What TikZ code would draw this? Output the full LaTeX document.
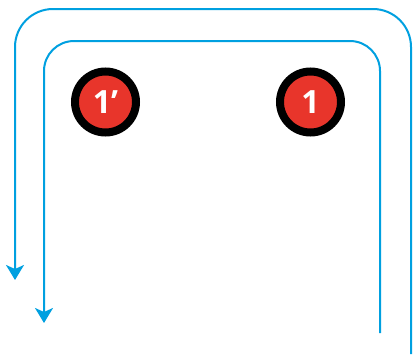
\documentclass[tikz,border=0pt]{standalone}
\usepackage{fontspec}
\setmainfont{Open Sans}
\usepackage{xcolor}
\usepackage{tikz}
\usetikzlibrary{arrows.meta, positioning}

\definecolor{loopblue}{HTML}{00A0E0}
\definecolor{coilred}{HTML}{E8352B}

\begin{document}
\begin{tikzpicture}[
        x=1pt, y=-1pt,
        coil/.style={circle, draw=black, line width=8pt, fill=coilred, minimum size=61pt, inner sep=0pt, text=white, font=\fontsize{32}{32}\selectfont\bfseries},
        arrow/.style={-{Stealth[length=15pt, width=18pt, inset=4pt]}, line width=2pt, draw=loopblue}
    ]
    \useasboundingbox (0,0) rectangle (418,354);

    \node (coilA) at (105.5, 102) [coil] {1’};
    \node (coilB) at (310.5, 102) [coil] {1};

    % outer loop
    \coordinate (outerStart) at (411, 354);
    \coordinate (outerEnd) at (15, 280);
    \draw [arrow, rounded corners=38pt] (outerStart) -- (411, 9) -- (15, 9) -- (outerEnd);

    % inner loop
    \coordinate (innerStart) at (380, 333);
    \coordinate (innerEnd) at (44, 323);
    \draw [arrow, rounded corners=30pt] (innerStart) -- (380, 41) -- (44, 41) -- (innerEnd);

\end{tikzpicture}
\end{document}
